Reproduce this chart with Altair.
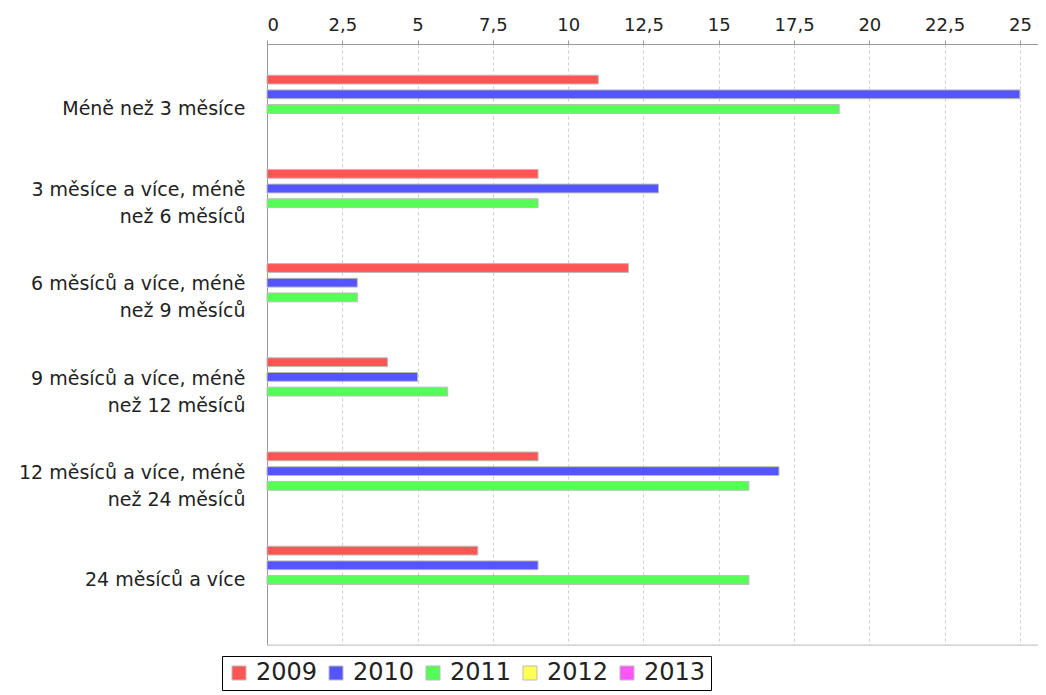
import altair as alt
import pandas as pd

categories = [
    "Méně než 3 měsíce",
    "3 měsíce a více, méně|než 6 měsíců",
    "6 měsíců a více, méně|než 9 měsíců",
    "9 měsíců a více, méně|než 12 měsíců",
    "12 měsíců a více, méně|než 24 měsíců",
    "24 měsíců a více",
]
years = ["2009", "2010", "2011", "2012", "2013"]
colors = ["#FF5555", "#5555FF", "#55FF55", "#FFFF55", "#FF55FF"]

v2009 = [11, 9, 12, 4, 9, 7]
v2010 = [25, 13, 3, 5, 17, 9]
v2011 = [19, 9, 3, 6, 16, 16]

tick_values = [0, 2.5, 5, 7.5, 10, 12.5, 15, 17.5, 20, 22.5, 25]

rows = []
for yr, vals in zip(["2009", "2010", "2011"], [v2009, v2010, v2011]):
    for c, v in zip(categories, vals):
        rows.append({"kategorie": c, "rok": yr, "hodnota": v})
df = pd.DataFrame(rows)

FONT = "DejaVu Sans"

bars = alt.Chart(df).mark_bar(stroke="#bbbbbb", strokeWidth=1).encode(
    x=alt.X(
        "hodnota:Q",
        scale=alt.Scale(domain=[0, 25.6], nice=False, zero=True),
        axis=alt.Axis(
            orient="top",
            values=tick_values,
            title=None,
            labelExpr="replace(format(datum.value, '.1~f'), '.', ',')",
            labelFont=FONT,
            labelFontSize=18,
            labelColor="#222222",
            labelPadding=6,
            tickSize=4,
            tickColor="#999999",
            domainColor="#999999",
            grid=True,
            gridColor="#cccccc",
            gridDash=[3, 3],
            gridWidth=1,
        ),
    ),
    y=alt.Y(
        "kategorie:N",
        sort=categories,
        scale=alt.Scale(domain=categories, paddingInner=0.22, paddingOuter=0.3),
        axis=alt.Axis(
            title=None,
            labelExpr="split(datum.label, '|')",
            labelFont=FONT,
            labelFontSize=19,
            labelColor="#222222",
            labelLineHeight=27,
            labelPadding=22,
            labelOffset={"condition": {"test": "indexof(datum.label, '|') >= 0", "value": -13}, "value": 0},
            tickSize=0,
            ticks=False,
            domainColor="#999999",
            grid=False,
            labelLimit=300,
        ),
    ),
    yOffset=alt.YOffset(
        "rok:N",
        scale=alt.Scale(domain=years, paddingInner=0.4, paddingOuter=0.2),
    ),
    color=alt.Color(
        "rok:N",
        scale=alt.Scale(domain=years, range=colors),
        legend=alt.Legend(
            title=None,
            orient="none",
            direction="horizontal",
            legendX=-45,
            legendY=612,
            strokeColor="#000000",
            fillColor="#ffffff",
            padding=5,
            labelFont=FONT,
            labelFontSize=24,
            labelColor="#222222",
            labelOffset=5,
            columnPadding=6,
            symbolType="square",
            symbolSize=196,
            symbolStrokeColor="#bbbbbb",
            symbolStrokeWidth=1,
            symbolOpacity=1,
            cornerRadius=0,
        ),
    ),
)

bottom_line = alt.Chart(pd.DataFrame({"a": [0]})).mark_rule(color="#cccccc", strokeWidth=1).encode(
    x=alt.value(0), x2=alt.value(771), y=alt.value(601)
)

chart = alt.layer(bars, bottom_line).properties(
    width=771,
    height=601,
    padding={"left": 259, "top": 36, "right": 0, "bottom": 50},
    autosize=alt.AutoSizeParams(type="none"),
).configure_view(stroke=None).configure(background="#ffffff")

chart.save("out.html", embed_options={"renderer": "svg", "actions": False})
